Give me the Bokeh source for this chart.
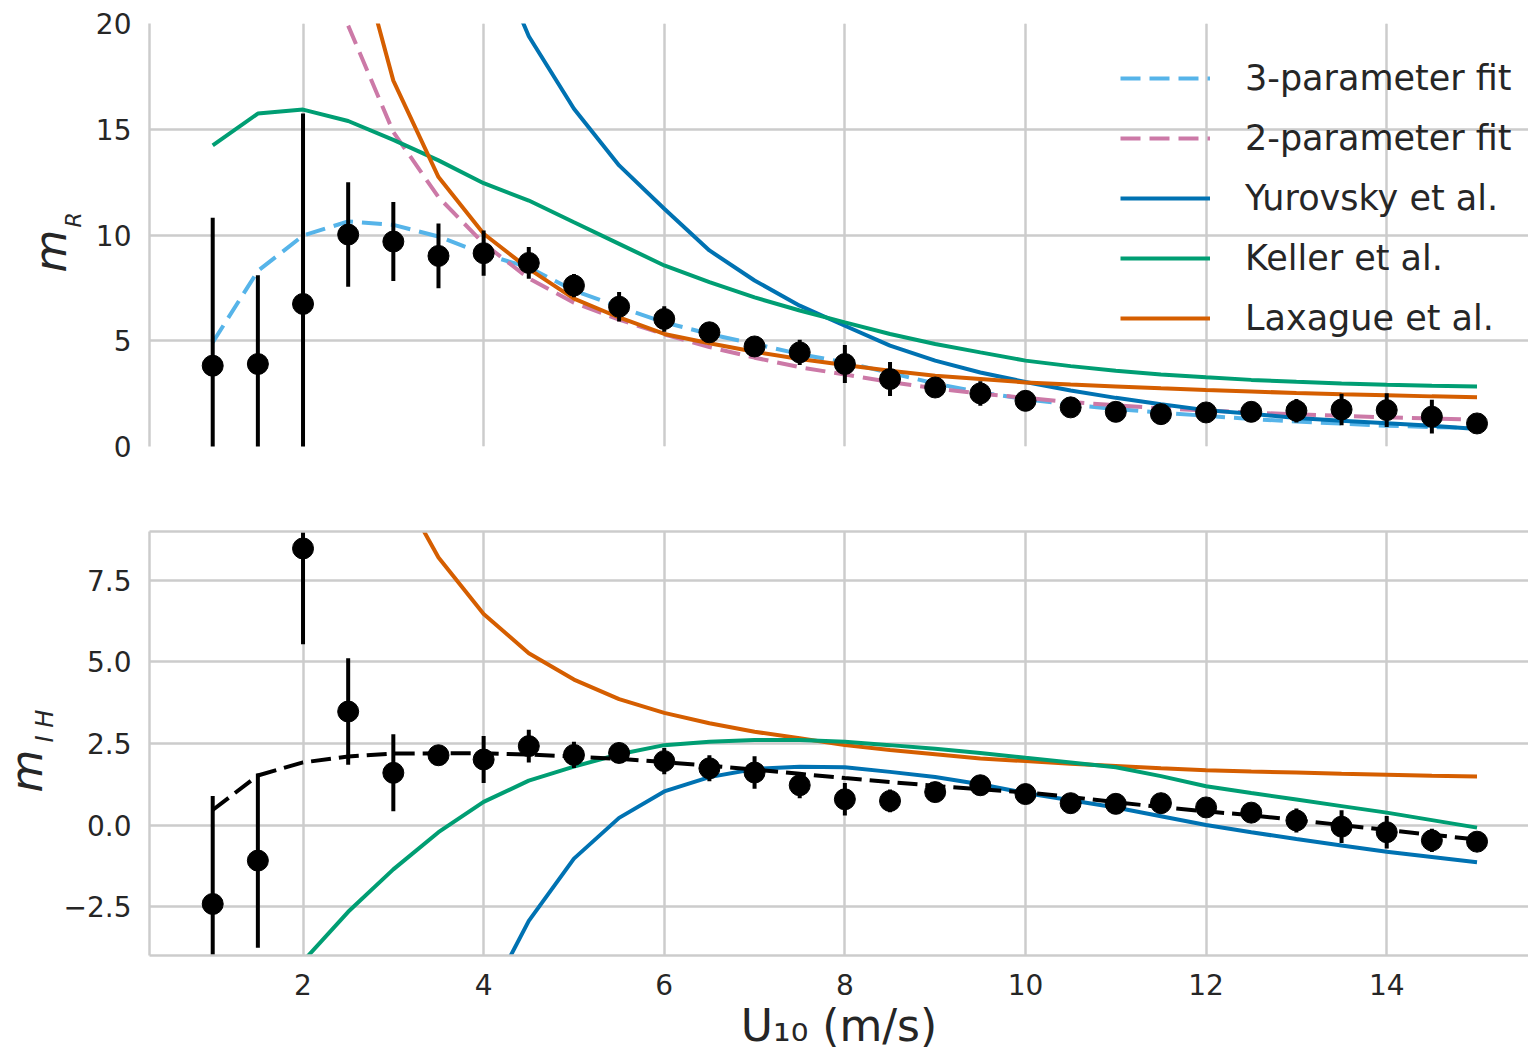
import numpy as np
from bokeh.plotting import figure
from bokeh.layouts import column
from bokeh.models import (ColumnDataSource, Range1d, FixedTicker, LinearAxis, Grid,
                          Legend, LegendItem, Title)
from bokeh.embed import file_html
from bokeh.resources import INLINE

# ---------------- data ----------------
u10 = [1.0, 1.5, 2.0, 2.5, 3.0, 3.5, 4.0, 4.5, 5.0, 5.5, 6.0, 6.5, 7.0, 7.5, 8.0,
       8.5, 9.0, 9.5, 10.0, 10.5, 11.0, 11.5, 12.0, 12.5, 13.0, 13.5, 14.0, 14.5, 15.0]

# top panel: m_R
mR = [3.82, 3.90, 6.74, 10.02, 9.69, 9.01, 9.14, 8.68, 7.61, 6.61, 6.03, 5.40, 4.73, 4.45, 3.90,
      3.19, 2.79, 2.51, 2.16, 1.85, 1.64, 1.53, 1.61, 1.64, 1.69, 1.75, 1.72, 1.41, 1.09]
mR_err = [7.0, 4.2, 9.0, 2.47, 1.87, 1.53, 1.07, 0.75, 0.55, 0.7, 0.6, 0.3, 0.3, 0.6, 0.9,
          0.8, 0.45, 0.58, 0.3, 0.3, 0.3, 0.3, 0.3, 0.3, 0.55, 0.75, 0.8, 0.8, 0.3]
fit3_R = [4.92, 8.30, 9.97, 10.64, 10.48, 9.93, 9.10, 8.47, 7.37, 6.60, 5.87, 5.32, 4.85, 4.37, 3.98,
          3.48, 2.98, 2.56, 2.24, 1.98, 1.77, 1.60, 1.45, 1.30, 1.18, 1.08, 0.98, 0.92, 0.87]
u10_fit2 = u10[3:]
fit2_R = [19.9, 14.87, 11.79, 9.60, 7.95, 6.80, 6.00, 5.30, 4.70, 4.20, 3.75, 3.40, 3.05,
          2.75, 2.50, 2.30, 2.10, 1.95, 1.80, 1.70, 1.60, 1.52, 1.45, 1.38, 1.32, 1.27]
u10_yur = u10[6:]
yurovsky_R = [24.4, 19.4, 15.97, 13.29, 11.24, 9.27, 7.85, 6.66, 5.71, 4.77, 4.06, 3.50, 3.05,
              2.65, 2.30, 2.00, 1.72, 1.55, 1.35, 1.22, 1.10, 0.98, 0.83]
keller_R = [14.24, 15.74, 15.93, 15.39, 14.50, 13.53, 12.45, 11.63, 10.60, 9.58, 8.56, 7.77, 7.05,
            6.43, 5.87, 5.32, 4.85, 4.45, 4.06, 3.80, 3.58, 3.40, 3.27, 3.15, 3.06, 2.98, 2.92,
            2.87, 2.84]
u10_lax = u10[3:]
laxague_R = [25.2, 17.3, 12.74, 10.06, 8.40, 6.99, 6.10, 5.32, 4.88, 4.48, 4.14, 3.85, 3.58,
             3.35, 3.19, 3.03, 2.93, 2.84, 2.75, 2.67, 2.60, 2.53, 2.47, 2.42, 2.37, 2.33]

# bottom panel: m_IH
mIH = [-2.42, -1.09, 8.48, 3.48, 1.60, 2.14, 2.01, 2.42, 2.15, 2.21, 1.96, 1.74, 1.61, 1.22, 0.79,
       0.74, 1.01, 1.22, 0.95, 0.67, 0.65, 0.67, 0.54, 0.38, 0.14, -0.05, -0.22, -0.47, -0.51]
mIH_err = [3.31, 2.67, 2.94, 1.63, 1.18, 0.2, 0.72, 0.5, 0.4, 0.15, 0.4, 0.4, 0.5, 0.4, 0.5,
           0.35, 0.15, 0.15, 0.15, 0.15, 0.15, 0.15, 0.2, 0.15, 0.37, 0.5, 0.5, 0.36, 0.15]
fit_IH = [0.46, 1.52, 1.92, 2.10, 2.19, 2.20, 2.20, 2.16, 2.10, 2.03, 1.93, 1.82, 1.70, 1.57, 1.44,
          1.32, 1.20, 1.10, 1.00, 0.86, 0.70, 0.55, 0.42, 0.30, 0.15, 0.00, -0.15, -0.30, -0.44]
u10_lax_IH = u10[4:]
laxague_IH = [10.7, 8.20, 6.47, 5.27, 4.46, 3.86, 3.44, 3.12, 2.86, 2.66, 2.45, 2.30, 2.17, 2.04,
              1.96, 1.88, 1.81, 1.74, 1.68, 1.64, 1.61, 1.57, 1.54, 1.51, 1.49]
u10_kel_IH = u10[2:]
keller_IH = [-4.18, -2.66, -1.36, -0.22, 0.71, 1.36, 1.79, 2.17, 2.45, 2.55, 2.61, 2.61, 2.55,
             2.45, 2.34, 2.21, 2.06, 1.92, 1.77, 1.50, 1.19, 0.98, 0.78, 0.58, 0.38, 0.15, -0.08]
u10_yur_IH = u10[6:]
yurovsky_IH = [-5.59, -2.94, -1.03, 0.22, 1.03, 1.47, 1.72, 1.79, 1.77, 1.63, 1.47, 1.25, 0.98,
               0.76, 0.54, 0.27, 0.00, -0.22, -0.43, -0.63, -0.82, -0.98, -1.14]

x_ticks = [2, 4, 6, 8, 10, 12, 14]
yR_ticks = [0, 5, 10, 15, 20]
yIH_ticks = [-2.5, 0.0, 2.5, 5.0, 7.5]
yIH_tick_labels = {-2.5: "\u22122.5", 0.0: "0.0", 2.5: "2.5", 5.0: "5.0", 7.5: "7.5"}
legend_labels = ["3-parameter fit", "2-parameter fit", "Yurovsky et al.", "Keller et al.", "Laxague et al."]
x_title = "U\u2081\u2080 (m/s)"

# ---------------- style ----------------
C_LB, C_PK, C_BL, C_GR, C_OR = "#56B4E9", "#CC79A7", "#0072B2", "#009E73", "#D55E00"
GRID = "#cccccc"
TXT = "#262626"
FONT = "DejaVu Sans"
LW = 4
TICK_FS = "28px"
W = 1528

x_range = Range1d(0.30, 15.57)


def style_axis(ax):
    ax.axis_line_color = GRID
    ax.axis_line_width = 2.5
    ax.major_tick_line_color = None
    ax.minor_tick_line_color = None
    ax.major_tick_out = 0
    ax.major_tick_in = 0
    ax.major_label_standoff = 18
    ax.major_label_text_font = FONT
    ax.major_label_text_font_size = TICK_FS
    ax.major_label_text_color = TXT


def add_grids(p, yticks):
    for dim, ticks in ((0, x_ticks), (1, yticks)):
        p.add_layout(Grid(dimension=dim, ticker=FixedTicker(ticks=ticks),
                          grid_line_color=GRID, grid_line_width=2.5))


def side_title(text, size, offset, standoff):
    return Title(text=text, align="left", vertical_align="bottom",
                 offset=offset, standoff=standoff,
                 text_font=FONT, text_font_size=size, text_font_style="italic",
                 text_color=TXT)


# ---------------- top panel ----------------
p1 = figure(width=W, height=488, x_range=x_range, y_range=Range1d(0, 20), title=None,
            output_backend="svg", toolbar_location=None, x_axis_location=None,
            min_border_left=149, min_border_right=0, min_border_top=23, min_border_bottom=42)
p1.outline_line_color = None
p1.yaxis.ticker = FixedTicker(ticks=yR_ticks)
style_axis(p1.yaxis[0])
add_grids(p1, yR_ticks)

r_f3 = p1.line(u10, fit3_R, line_color=C_LB, line_width=LW, line_dash="20 9")
r_f2 = p1.line(u10_fit2, fit2_R, line_color=C_PK, line_width=LW, line_dash="20 9")
r_yu = p1.line(u10_yur, yurovsky_R, line_color=C_BL, line_width=LW)
r_ke = p1.line(u10, keller_R, line_color=C_GR, line_width=LW)
r_la = p1.line(u10_lax, laxague_R, line_color=C_OR, line_width=LW)

srcR = ColumnDataSource(dict(x=u10, y=mR, lo=[a - b for a, b in zip(mR, mR_err)],
                             hi=[a + b for a, b in zip(mR, mR_err)]))
p1.segment(x0="x", y0="lo", x1="x", y1="hi", source=srcR, line_color="black", line_width=4)
p1.scatter(x="x", y="y", source=srcR, size=21, fill_color="black", line_color="black")

legend = Legend(items=[LegendItem(label=lab, renderers=[r]) for lab, r in
                       zip(legend_labels, [r_f3, r_f2, r_yu, r_ke, r_la])],
                location=(971, 103), orientation="vertical",
                border_line_color=None, background_fill_alpha=0,
                padding=0, margin=0, spacing=10,
                glyph_width=90, glyph_height=50, label_height=50, label_standoff=35,
                label_text_font=FONT, label_text_font_size="35px", label_text_color=TXT)
p1.add_layout(legend)

# y label m_R  (subscript panel next to the tick labels, then the m)
p1.add_layout(side_title("R", "22px", 219, 14), "left")
p1.add_layout(side_title("m", "44px", 174, -48), "left")

# ---------------- bottom panel ----------------
p2 = figure(width=W, height=565, x_range=x_range, y_range=Range1d(-4, 9), title=None,
            output_backend="svg", toolbar_location=None,
            min_border_left=149, min_border_right=0, min_border_top=43, min_border_bottom=98)
p2.outline_line_color = None
p2.xaxis.ticker = FixedTicker(ticks=x_ticks)
p2.yaxis.ticker = FixedTicker(ticks=yIH_ticks)
p2.yaxis.major_label_overrides = yIH_tick_labels
style_axis(p2.xaxis[0])
style_axis(p2.yaxis[0])
p2.xaxis.axis_label = x_title
p2.xaxis.axis_label_text_font = FONT
p2.xaxis.axis_label_text_font_size = "44px"
p2.xaxis.axis_label_text_font_style = "normal"
p2.xaxis.axis_label_text_color = TXT
p2.xaxis.axis_label_standoff = 2
p2.grid.visible = False
add_grids(p2, yIH_ticks)
top_ax = LinearAxis(ticker=FixedTicker(ticks=[]), axis_line_color=GRID, axis_line_width=2.5,
                    major_tick_line_color=None, minor_tick_line_color=None,
                    major_tick_out=0, major_tick_in=0)
p2.add_layout(top_ax, "above")

p2.line(u10_lax_IH, laxague_IH, line_color=C_OR, line_width=LW)
p2.line(u10_kel_IH, keller_IH, line_color=C_GR, line_width=LW)
p2.line(u10_yur_IH, yurovsky_IH, line_color=C_BL, line_width=LW)
p2.line(u10, fit_IH, line_color="black", line_width=LW, line_dash="20 8")

srcI = ColumnDataSource(dict(x=u10, y=mIH, lo=[a - b for a, b in zip(mIH, mIH_err)],
                             hi=[a + b for a, b in zip(mIH, mIH_err)]))
p2.segment(x0="x", y0="lo", x1="x", y1="hi", source=srcI, line_color="black", line_width=4)
p2.scatter(x="x", y="y", source=srcI, size=21, fill_color="black", line_color="black")

# y label m_IH
p2.add_layout(side_title("I H", "24px", 213, 3), "left")
p2.add_layout(side_title("m", "44px", 163, -49), "left")

layout = column(p1, p2, spacing=0)
open("out.html", "w").write(file_html(layout, INLINE))
